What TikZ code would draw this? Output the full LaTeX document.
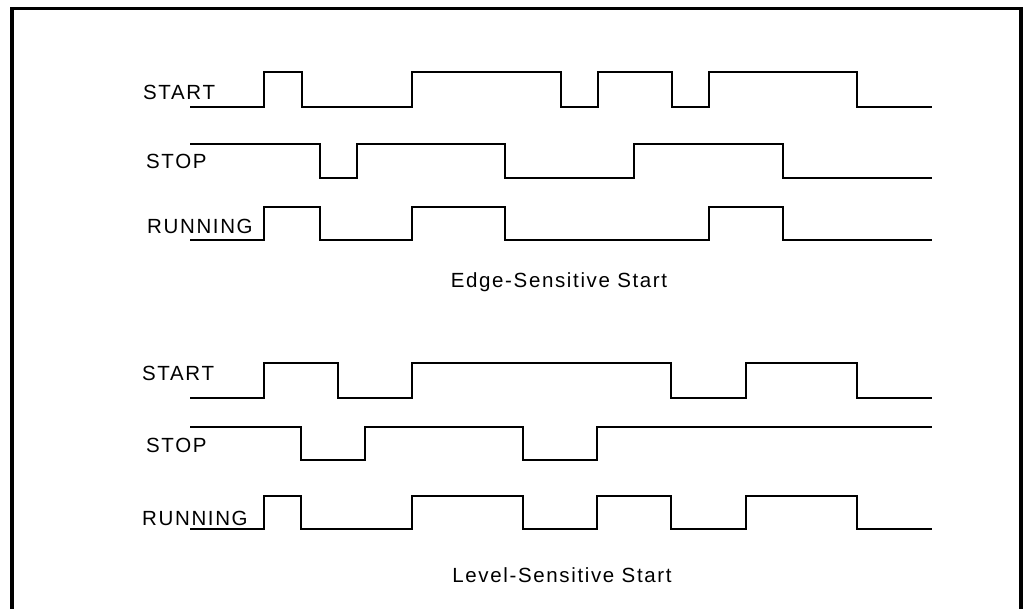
\documentclass[tikz,border=0pt]{standalone}
\usepackage{fontspec}
\setmainfont{Liberation Sans}[LetterSpace=8]
\begin{document}
\begin{tikzpicture}[x=1pt,y=-1pt,
  wave/.style={line width=1.5pt, line join=miter},
  lbl/.style={anchor=base west, inner sep=0pt, font=\fontsize{20.5}{24}\selectfont},
  captxt/.style={anchor=base, inner sep=0pt, font=\fontsize{20.5}{24}\selectfont}]
\useasboundingbox (0,0) rectangle (1023,608);
\begin{scope}
\clip (0,0) rectangle (1023,608);
\draw[line width=3.8pt] (12,8.5) rectangle (1021,640);
\end{scope}
% Edge-sensitive
\node[lbl] (s1) at (143,99.5) {START};
\node[lbl] (p1) at (146,168) {STOP};
\node[lbl] (r1) at (147,233) {RUNNING};
\draw[wave] (190,107) -| (264,72) -| (302,107) -| (412,72) -| (561,107) -| (598,72) -| (672,107) -| (709,72) -| (857,107) -- (932,107);
\draw[wave] (190,144) -| (320,178) -| (357,144) -| (505,178) -| (634,144) -| (783,178) -- (932,178);
\draw[wave] (190,240) -| (264,207) -| (320,240) -| (412,207) -| (505,240) -| (709,207) -| (783,240) -- (932,240);
\node[captxt] (c1) at (559,287.5) {Edge-Sensitive Start};
% Level-sensitive
\node[lbl] (s2) at (142,380) {START};
\node[lbl] (p2) at (146,452.5) {STOP};
\node[lbl] (r2) at (142,525) {RUNNING};
\draw[wave] (190,398) -| (264,363) -| (338,398) -| (412,363) -| (671,398) -| (746,363) -| (857,398) -- (932,398);
\draw[wave] (190,427) -| (301,460) -| (365,427) -| (523,460) -| (597,427) -- (932,427);
\draw[wave] (190,529) -| (264,496) -| (301,529) -| (412,496) -| (523,529) -| (597,496) -| (671,529) -| (746,496) -| (857,529) -- (932,529);
\node[captxt] (c2) at (562,582.5) {Level-Sensitive Start};
\end{tikzpicture}
\end{document}
